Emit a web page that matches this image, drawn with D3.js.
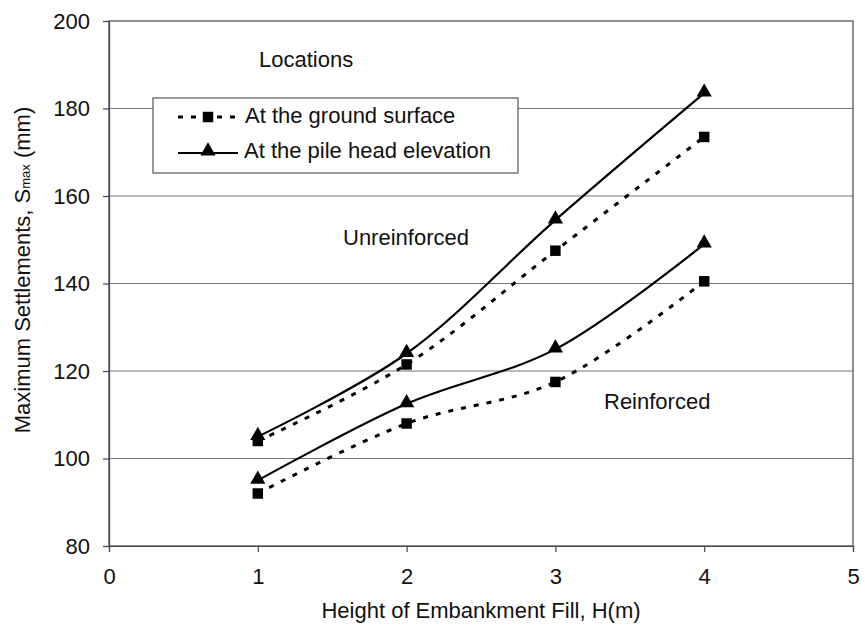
<!DOCTYPE html>
<html>
<head>
<meta charset="utf-8">
<script src="https://cdn.jsdelivr.net/npm/d3@7"></script>
<style>
  body { margin: 0; background: #fff; }
  text { font-family: "Liberation Sans", Arial, sans-serif; fill: #111; }
</style>
</head>
<body>
<div id="chart"></div>
<script>
const heights = [1, 2, 3, 4]
const unreinforcedGround = [104, 121.5, 147.5, 173.5]
const unreinforcedPile = [105, 124, 154.5, 183.5]
const reinforcedGround = [92, 108, 117.5, 140.5]
const reinforcedPile = [95, 112.5, 125, 149]
const xTicks = [0, 1, 2, 3, 4, 5]
const yTicks = [80, 100, 120, 140, 160, 180, 200]

const width = 865, height = 634
const margin = { left: 109, right: 12, top: 21, bottom: 88 }
const fs = '22px'

const svg = d3.select('#chart').append('svg')
  .attr('width', width)
  .attr('height', height)

const x = d3.scaleLinear().domain([0, 5]).range([margin.left, width - margin.right])
const y = d3.scaleLinear().domain([80, 200]).range([height - margin.bottom, margin.top])

// gridlines
svg.append('g').selectAll('line')
  .data(yTicks.filter(d => d > 80 && d < 200))
  .enter().append('line')
  .attr('x1', x(0)).attr('x2', x(5))
  .attr('y1', d => y(d)).attr('y2', d => y(d))
  .attr('stroke', '#777')
  .attr('stroke-width', 1.2)

// frame
svg.append('rect')
  .attr('x', x(0)).attr('y', y(200))
  .attr('width', x(5) - x(0)).attr('height', y(80) - y(200))
  .attr('fill', 'none')
  .attr('stroke', '#444')
  .attr('stroke-width', 1.2)

// axes
const xAxis = svg.append('g')
  .attr('transform', 'translate(0,' + y(80) + ')')
  .call(d3.axisBottom(x).tickValues(xTicks).tickSize(6).tickFormat(d3.format('d')))
const yAxis = svg.append('g')
  .attr('transform', 'translate(' + x(0) + ',0)')
  .call(d3.axisLeft(y).tickValues(yTicks).tickSize(6).tickFormat(d3.format('d')))

;[xAxis, yAxis].forEach(a => {
  a.select('.domain').attr('stroke', '#444').attr('stroke-width', 1.2)
  a.selectAll('.tick line').attr('stroke', '#444').attr('stroke-width', 1.2)
  a.selectAll('.tick text')
    .style('font-family', '"Liberation Sans", Arial, sans-serif')
    .style('font-size', fs)
    .attr('fill', '#111')
})
xAxis.selectAll('.tick text').attr('y', 22)
yAxis.selectAll('.tick text').attr('x', -19)

const line = d3.line()
  .x((d, i) => x(heights[i]))
  .y(d => y(d))
  .curve(d3.curveCatmullRom.alpha(0.5))

const series = [
  { values: unreinforcedGround, dashed: true, marker: 'square' },
  { values: reinforcedGround, dashed: true, marker: 'square' },
  { values: unreinforcedPile, dashed: false, marker: 'triangle' },
  { values: reinforcedPile, dashed: false, marker: 'triangle' }
]

const squareSym = d3.symbol().type(d3.symbolSquare).size(110)
const triSym = d3.symbol().type(d3.symbolTriangle).size(100)

series.forEach(s => {
  svg.append('path')
    .attr('d', line(s.values))
    .attr('fill', 'none')
    .attr('stroke', '#000')
    .attr('stroke-width', s.dashed ? 3 : 2.2)
    .attr('stroke-dasharray', s.dashed ? '5,8' : null)

  svg.append('g').selectAll('path')
    .data(s.values)
    .enter().append('path')
    .attr('d', s.marker === 'square' ? squareSym() : triSym())
    .attr('transform', (d, i) => 'translate(' + x(heights[i]) + ',' + (y(d) - (s.marker === 'triangle' ? 1 : 0)) + ')')
    .attr('fill', '#000')
})

// legend
const legend = svg.append('g').attr('transform', 'translate(153,98)')
legend.append('rect')
  .attr('width', 365).attr('height', 75)
  .attr('fill', '#fff')
  .attr('stroke', '#555')
  .attr('stroke-width', 1.2)

legend.append('line')
  .attr('x1', 25).attr('x2', 84).attr('y1', 19).attr('y2', 19)
  .attr('stroke', '#000').attr('stroke-width', 3).attr('stroke-dasharray', '5,8')
legend.append('path')
  .attr('d', squareSym())
  .attr('transform', 'translate(55,19)')
legend.append('text')
  .attr('x', 92).attr('y', 25)
  .style('font-size', fs)
  .text('At the ground surface')

legend.append('line')
  .attr('x1', 25).attr('x2', 85).attr('y1', 55).attr('y2', 55)
  .attr('stroke', '#000').attr('stroke-width', 2.2)
legend.append('path')
  .attr('d', triSym())
  .attr('transform', 'translate(55,53)')
legend.append('text')
  .attr('x', 91).attr('y', 60)
  .style('font-size', fs)
  .text('At the pile head elevation')

// annotations
svg.append('text').attr('x', 259).attr('y', 67).style('font-size', fs).text('Locations')
svg.append('text').attr('x', 343).attr('y', 245).style('font-size', fs).text('Unreinforced')
svg.append('text').attr('x', 604).attr('y', 409).style('font-size', fs).text('Reinforced')

// axis titles
svg.append('text')
  .attr('x', (x(0) + x(5)) / 2 + 0)
  .attr('y', 618)
  .attr('text-anchor', 'middle')
  .style('font-size', fs)
  .text('Height of Embankment Fill, H(m)')

const yt = svg.append('text')
  .attr('transform', 'translate(30,270) rotate(-90)')
  .attr('text-anchor', 'middle')
  .style('font-size', fs)
yt.append('tspan').text('Maximum Settlements, S')
yt.append('tspan').style('font-size', '13px').attr('dy', 0).text('max')
yt.append('tspan').attr('dy', 0).text(' (mm)')
</script>
</body>
</html>
